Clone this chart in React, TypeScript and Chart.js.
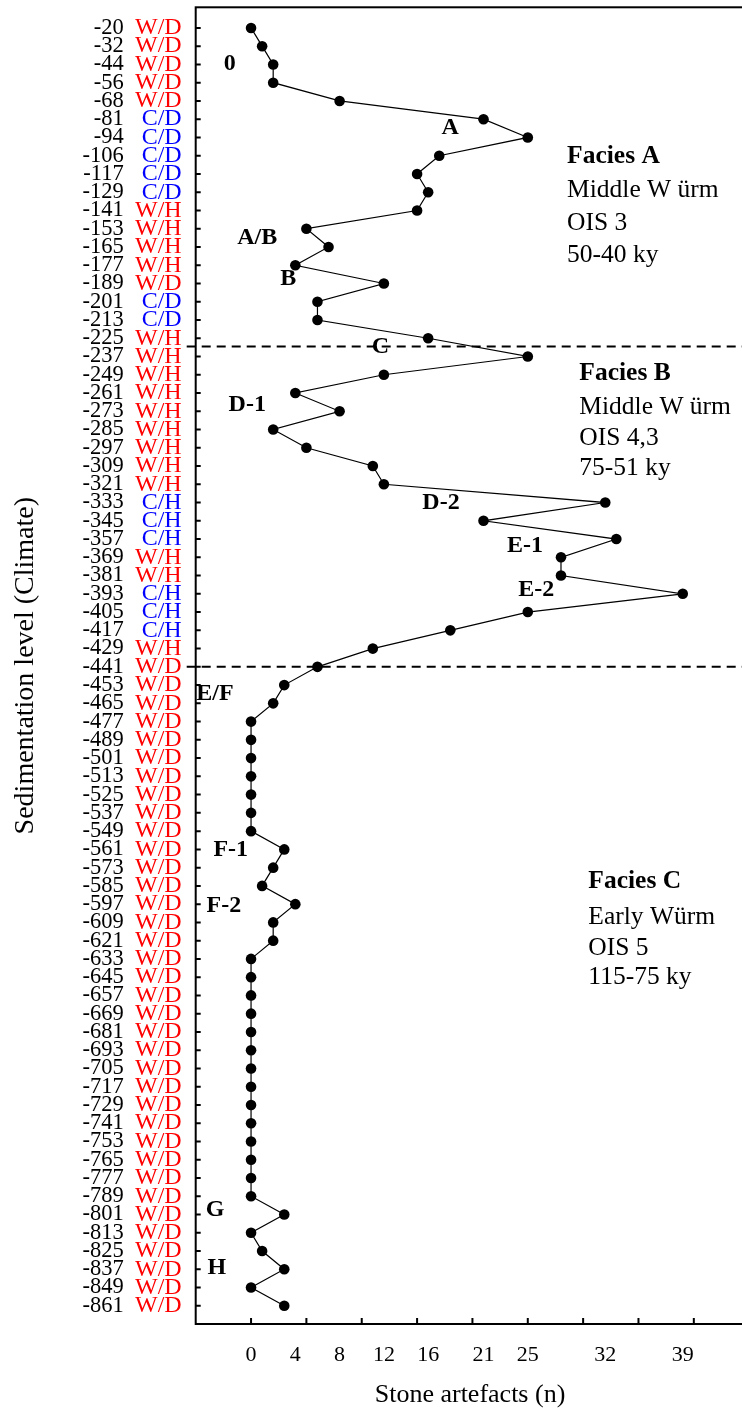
import React, { useEffect, useRef } from "react";
import { Chart, registerables } from "chart.js";

Chart.register(...registerables);

const SERIF = "'Liberation Serif', 'Times New Roman', serif";

const DEPTHS = [
  "-20", "-32", "-44", "-56", "-68", "-81", "-94", "-106", "-117", "-129",
  "-141", "-153", "-165", "-177", "-189", "-201", "-213", "-225", "-237", "-249",
  "-261", "-273", "-285", "-297", "-309", "-321", "-333", "-345", "-357", "-369",
  "-381", "-393", "-405", "-417", "-429", "-441", "-453", "-465", "-477", "-489",
  "-501", "-513", "-525", "-537", "-549", "-561", "-573", "-585", "-597", "-609",
  "-621", "-633", "-645", "-657", "-669", "-681", "-693", "-705", "-717", "-729",
  "-741", "-753", "-765", "-777", "-789", "-801", "-813", "-825", "-837", "-849",
  "-861",
];

const CLIMATE = [
  "W/D", "W/D", "W/D", "W/D", "W/D", "C/D", "C/D", "C/D", "C/D", "C/D",
  "W/H", "W/H", "W/H", "W/H", "W/D", "C/D", "C/D", "W/H", "W/H", "W/H",
  "W/H", "W/H", "W/H", "W/H", "W/H", "W/H", "C/H", "C/H", "C/H", "W/H",
  "W/H", "C/H", "C/H", "C/H", "W/H", "W/D", "W/D", "W/D", "W/D", "W/D",
  "W/D", "W/D", "W/D", "W/D", "W/D", "W/D", "W/D", "W/D", "W/D", "W/D",
  "W/D", "W/D", "W/D", "W/D", "W/D", "W/D", "W/D", "W/D", "W/D", "W/D",
  "W/D", "W/D", "W/D", "W/D", "W/D", "W/D", "W/D", "W/D", "W/D", "W/D",
  "W/D",
];

const ARTEFACTS = [
  0, 1, 2, 2, 8, 21, 25, 17, 15, 16,
  15, 5, 7, 4, 12, 6, 6, 16, 25, 12,
  4, 8, 2, 5, 11, 12, 32, 21, 33, 28,
  28, 39, 25, 18, 11, 6, 3, 2, 0, 0,
  0, 0, 0, 0, 0, 3, 2, 1, 4, 2,
  2, 0, 0, 0, 0, 0, 0, 0, 0, 0,
  0, 0, 0, 0, 0, 3, 0, 1, 3, 0,
  3,
];

const X_TICK_LABELS = [0, 4, 8, 12, 16, 21, 25, 32, 39];
const X_TICK_MARKS = [0, 5, 10, 15, 20, 25, 30, 35, 40];
const X_MIN = -5;
const X_MAX = 44.56;
const Y_MIN = -1.13;
const Y_MAX = 71;

// facies boundaries (in level-index units)
const FACIES_BOUNDARIES = [17.45, 35];

const SECTION_LABELS = [
  { text: "0", x: -1.92, y: 1.97 },
  { text: "A", x: 17.98, y: 5.49 },
  { text: "A/B", x: 0.56, y: 11.52 },
  { text: "B", x: 3.36, y: 13.76 },
  { text: "C", x: 11.69, y: 17.47 },
  { text: "D-1", x: -0.34, y: 20.65 },
  { text: "D-2", x: 17.16, y: 26.03 },
  { text: "E-1", x: 24.74, y: 28.37 },
  { text: "E-2", x: 25.76, y: 30.78 },
  { text: "E/F", x: -3.26, y: 36.47 },
  { text: "F-1", x: -1.83, y: 45.02 },
  { text: "F-2", x: -2.46, y: 48.07 },
  { text: "G", x: -3.26, y: 64.73 },
  { text: "H", x: -3.1, y: 67.93 },
];

const FACIES_A = ["Facies A", "Middle W ürm", "OIS 3", "50-40 ky"];
const FACIES_B = ["Facies B", "Middle W ürm", "OIS 4,3", "75-51 ky"];
const FACIES_C = ["Facies C", "Early Würm", "OIS 5", "115-75 ky"];
const FACIES_BLOCKS = [
  { lines: FACIES_A, x: 28.55, ys: [7.39, 9.25, 11.06, 12.8] },
  { lines: FACIES_B, x: 29.66, ys: [19.28, 21.14, 22.84, 24.48] },
  { lines: FACIES_C, x: 30.47, ys: [47.1, 49.07, 50.77, 52.4] },
];

const CANVAS_W = 750;
const CANVAS_H = 1411;

const levelTicks = (s: any) => {
  s.ticks = DEPTHS.map((_, i) => ({ value: i }));
};

export default function App() {
  const ref = useRef<HTMLCanvasElement>(null);

  useEffect(() => {
    const canvas = ref.current;
    if (!canvas) return;

    const overlay = {
      id: "overlay",
      beforeDatasetsDraw(chart: any) {
        const { ctx, chartArea } = chart;
        const xs = chart.scales.x;
        const ys = chart.scales.yClimate;
        const { left, right, top, bottom } = chartArea;
        ctx.save();
        ctx.strokeStyle = "#000";
        // frame
        ctx.lineWidth = 2;
        ctx.setLineDash([]);
        ctx.strokeRect(left, top, right - left, bottom - top);
        // y tick marks (inward)
        ctx.beginPath();
        DEPTHS.forEach((_, i) => {
          const y = ys.getPixelForValue(i);
          ctx.moveTo(left, y);
          ctx.lineTo(left + 5, y);
        });
        // x tick marks (inward)
        X_TICK_MARKS.forEach((v) => {
          const x = xs.getPixelForValue(v);
          ctx.moveTo(x, bottom);
          ctx.lineTo(x, bottom - 6);
        });
        ctx.stroke();
        // facies boundaries
        ctx.setLineDash([9, 6]);
        ctx.lineWidth = 2;
        FACIES_BOUNDARIES.forEach((b) => {
          const y = ys.getPixelForValue(b);
          ctx.beginPath();
          ctx.moveTo(left - 9, y);
          ctx.lineTo(right, y);
          ctx.stroke();
        });
        ctx.restore();
      },
      afterDatasetsDraw(chart: any) {
        const { ctx } = chart;
        const xs = chart.scales.x;
        const ys = chart.scales.yClimate;
        ctx.save();
        ctx.fillStyle = "#000";
        ctx.font = `bold 24px ${SERIF}`;
        ctx.textAlign = "center";
        ctx.textBaseline = "middle";
        SECTION_LABELS.forEach((l) => {
          ctx.fillText(l.text, xs.getPixelForValue(l.x), ys.getPixelForValue(l.y));
        });
        ctx.textAlign = "left";
        ctx.textBaseline = "alphabetic";
        FACIES_BLOCKS.forEach((b) => {
          b.lines.forEach((t, i) => {
            ctx.font = i === 0 ? `bold 25.5px ${SERIF}` : `25.5px ${SERIF}`;
            ctx.fillText(t, xs.getPixelForValue(b.x), ys.getPixelForValue(b.ys[i]));
          });
        });
        ctx.restore();
      },
    };

    const chart = new Chart(canvas, {
      type: "line",
      data: {
        datasets: [
          {
            data: ARTEFACTS.map((v, i) => ({ x: v, y: i })),
            borderColor: "#000",
            borderWidth: 1.2,
            pointRadius: 5.3,
            pointHoverRadius: 5.3,
            pointBackgroundColor: "#000",
            pointBorderWidth: 0,
            fill: false,
            tension: 0,
            xAxisID: "x",
            yAxisID: "yClimate",
          },
        ],
      },
      options: {
        responsive: true,
        maintainAspectRatio: false,
        animation: false,
        events: [],
        layout: { padding: { top: 7.3, left: 0, right: CANVAS_W - 744.3, bottom: 0 } },
        plugins: { legend: { display: false }, tooltip: { enabled: false } },
        scales: {
          x: {
            type: "linear",
            position: "bottom",
            min: X_MIN,
            max: X_MAX,
            grid: { display: false, drawTicks: false },
            border: { display: false },
            afterBuildTicks: (s: any) => {
              s.ticks = X_TICK_LABELS.map((v) => ({ value: v }));
            },
            afterFit: (s: any) => {
              s.height = 87;
              s.paddingLeft = 0;
              s.paddingRight = 0;
            },
            ticks: {
              autoSkip: false,
              maxRotation: 0,
              padding: 18,
              color: "#000",
              font: { family: SERIF, size: 22 },
              callback: (v: any) => String(v),
            },
            title: {
              display: true,
              text: "Stone artefacts (n)",
              color: "#000",
              font: { family: SERIF, size: 26 },
              padding: { top: 0, bottom: 0 },
            },
          },
          yClimate: {
            type: "linear",
            position: "left",
            weight: 0,
            reverse: true,
            min: Y_MIN,
            max: Y_MAX,
            grid: { display: false, drawTicks: false },
            border: { display: false },
            afterBuildTicks: levelTicks,
            afterFit: (s: any) => {
              s.width = 62;
              s.paddingTop = 0;
              s.paddingBottom = 0;
            },
            ticks: {
              autoSkip: false,
              padding: 14,
              font: { family: SERIF, size: 24 },
              color: (c: any) =>
                CLIMATE[c.tick?.value]?.startsWith("C") ? "#0000ff" : "#ff0000",
              callback: (v: any) => CLIMATE[v],
            },
          },
          yDepth: {
            type: "linear",
            position: "left",
            weight: 1,
            reverse: true,
            min: Y_MIN,
            max: Y_MAX,
            grid: { display: false, drawTicks: false },
            border: { display: false },
            afterBuildTicks: levelTicks,
            afterFit: (s: any) => {
              s.width = 133.7;
              s.paddingTop = 0;
              s.paddingBottom = 0;
            },
            ticks: {
              autoSkip: false,
              padding: 10,
              color: "#000",
              font: { family: SERIF, size: 22.5 },
              callback: (v: any) => DEPTHS[v],
            },
            title: {
              display: true,
              text: "Sedimentation level (Climate)",
              color: "#000",
              font: { family: SERIF, size: 28 },
              padding: { top: 9, bottom: 0 },
            },
          },
        },
      } as any,
      plugins: [overlay],
    });

    return () => chart.destroy();
  }, []);

  return (
    <div
      style={{
        position: "fixed",
        left: 0,
        top: 0,
        width: 742,
        height: CANVAS_H,
        overflow: "hidden",
        background: "#fff",
      }}
    >
      <div style={{ position: "relative", width: CANVAS_W, height: CANVAS_H }}>
        <canvas ref={ref} />
      </div>
    </div>
  );
}
